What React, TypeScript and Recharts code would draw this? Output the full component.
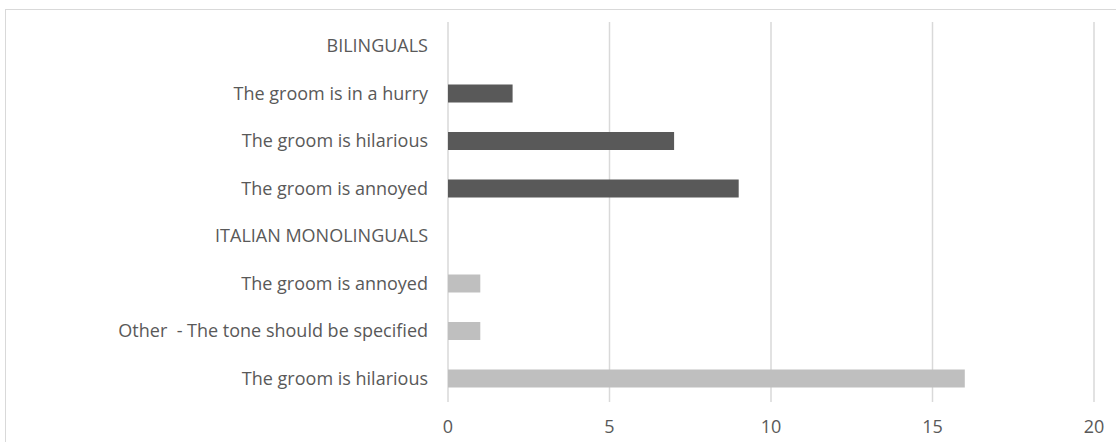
import { BarChart, Bar, XAxis, YAxis, CartesianGrid, Cell } from 'recharts'

const categories = [
  'BILINGUALS',
  'The groom is in a hurry',
  'The groom is hilarious',
  'The groom is annoyed',
  'ITALIAN MONOLINGUALS',
  'The groom is annoyed',
  'Other\u00a0 - The tone should be specified',
  'The groom is hilarious',
]
const values = [null, 2, 7, 9, null, 1, 1, 16]
const groups = ['bi', 'bi', 'bi', 'bi', 'it', 'it', 'it', 'it']
const xTicks = [0, 5, 10, 15, 20]

const groupColors: Record<string, string> = { bi: '#595959', it: '#bfbfbf' }

const data = categories.map((name, i) => ({ key: i, name, value: values[i], group: groups[i] }))

const textStyle = { fill: '#595959', fontSize: 18, fontFamily: '"Open Sans", sans-serif' }

export default function App() {
  return (
    <div style={{ position: 'absolute', left: 0, top: 0, width: 1116, height: 442, overflow: 'hidden', background: '#fff' }}>
      <div
        style={{
          position: 'absolute',
          left: 5,
          top: 9,
          width: 1200,
          height: 600,
          border: '1px solid #d9d9d9',
        }}
      />
      <BarChart
        layout="vertical"
        width={1116}
        height={442}
        data={data}
        margin={{ top: 22, right: 22, bottom: 10, left: 0 }}
        style={{ position: 'absolute', left: 0, top: 0 }}
      >
        <CartesianGrid horizontal={false} stroke="#d9d9d9" strokeWidth={1.5} />
        <XAxis
          type="number"
          domain={[0, 20]}
          ticks={xTicks}
          height={30}
          axisLine={false}
          tickLine={false}
          tickMargin={12}
          tick={textStyle}
        />
        <YAxis
          type="category"
          dataKey="key"
          width={448}
          axisLine={false}
          tickLine={false}
          tickMargin={14}
          interval={0}
          tick={textStyle}
          tickFormatter={(v: number) => categories[v]}
        />
        <Bar dataKey="value" barSize={18} isAnimationActive={false}>
          {data.map((d) => (
            <Cell key={d.key} fill={groupColors[d.group]} />
          ))}
        </Bar>
      </BarChart>
    </div>
  )
}
